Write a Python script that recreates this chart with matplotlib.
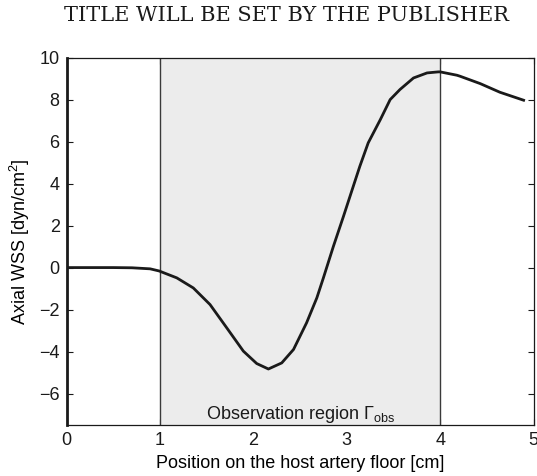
import matplotlib
matplotlib.use("Agg")
import matplotlib.pyplot as plt
import numpy as np

# Data
x_pos = [0.0, 0.25, 0.5, 0.7, 0.895, 0.99, 1.18, 1.357, 1.536, 1.715, 1.893, 2.036,
         2.161, 2.304, 2.43, 2.57, 2.68, 2.75, 2.857, 2.965, 3.07, 3.14, 3.23,
         3.36, 3.465, 3.57, 3.715, 3.86, 3.98, 4.0, 4.18, 4.215, 4.43, 4.64, 4.894]
wss = [0.0, 0.0, 0.0, -0.01, -0.06, -0.16, -0.49, -0.97, -1.76, -2.87, -3.98, -4.57,
       -4.83, -4.54, -3.9, -2.63, -1.44, -0.49, 1.01, 2.44, 3.87, 4.82, 5.94,
       7.05, 8.0, 8.48, 9.03, 9.27, 9.32, 9.32, 9.16, 9.11, 8.76, 8.35, 7.97]
obs_region = [1.0, 4.0]
xticks = [0, 1, 2, 3, 4, 5]
yticks = [-6, -4, -2, 0, 2, 4, 6, 8, 10]
ytick_labels = ["\u22126", "\u22124", "\u22122", "0", "2", "4", "6", "8", "10"]

plt.rcParams['font.family'] = ['Liberation Sans', 'DejaVu Sans']
plt.rcParams['mathtext.fontset'] = 'custom'
plt.rcParams['mathtext.rm'] = 'Liberation Sans'
plt.rcParams['mathtext.it'] = 'Liberation Sans:italic'
plt.rcParams['mathtext.bf'] = 'Liberation Sans:bold'

fig = plt.figure(figsize=(5.37, 4.76), dpi=100)
ax = fig.add_axes([0.124, 0.107, 0.8695, 0.772])

ax.axvspan(obs_region[0], obs_region[1], color='#ececec', zorder=3, lw=0)
for xv in obs_region:
    ax.axvline(xv, color='#3a3a3a', lw=1.0, zorder=4)

ax.plot(x_pos, wss, color='#1a1a1a', lw=2.0, zorder=5)

ax.set_xlim(0, 5)
ax.set_ylim(-7.5, 10)
ax.set_xticks(xticks)
ax.set_xticklabels([str(t) for t in xticks])
ax.set_yticks(yticks)
ax.set_yticklabels(ytick_labels)
ax.tick_params(direction='in', length=4, width=0.8, top=True, right=True,
               labelsize=13, colors='#1a1a1a', pad=5)
for s in ax.spines.values():
    s.set_linewidth(0.9)
    s.set_color('#1a1a1a')
    s.set_zorder(6)
ax.spines['left'].set_linewidth(2.0)

ax.set_xlabel('Position on the host artery floor [cm]', fontsize=13, labelpad=4)
ax.set_ylabel('Axial WSS [dyn/cm$^2$]', fontsize=13, labelpad=5)

ax.text(2.5, -7.0, 'Observation region $\\Gamma_{\\mathrm{obs}}$', ha='center',
        va='center', fontsize=13, zorder=7, color='#1a1a1a')

fig.text(0.534, 0.968, 'TITLE WILL BE SET BY THE PUBLISHER', ha='center', va='center',
         fontsize=15, family=['DejaVu Serif'], color='#1a1a1a')

fig.savefig('out.png', dpi=100)
